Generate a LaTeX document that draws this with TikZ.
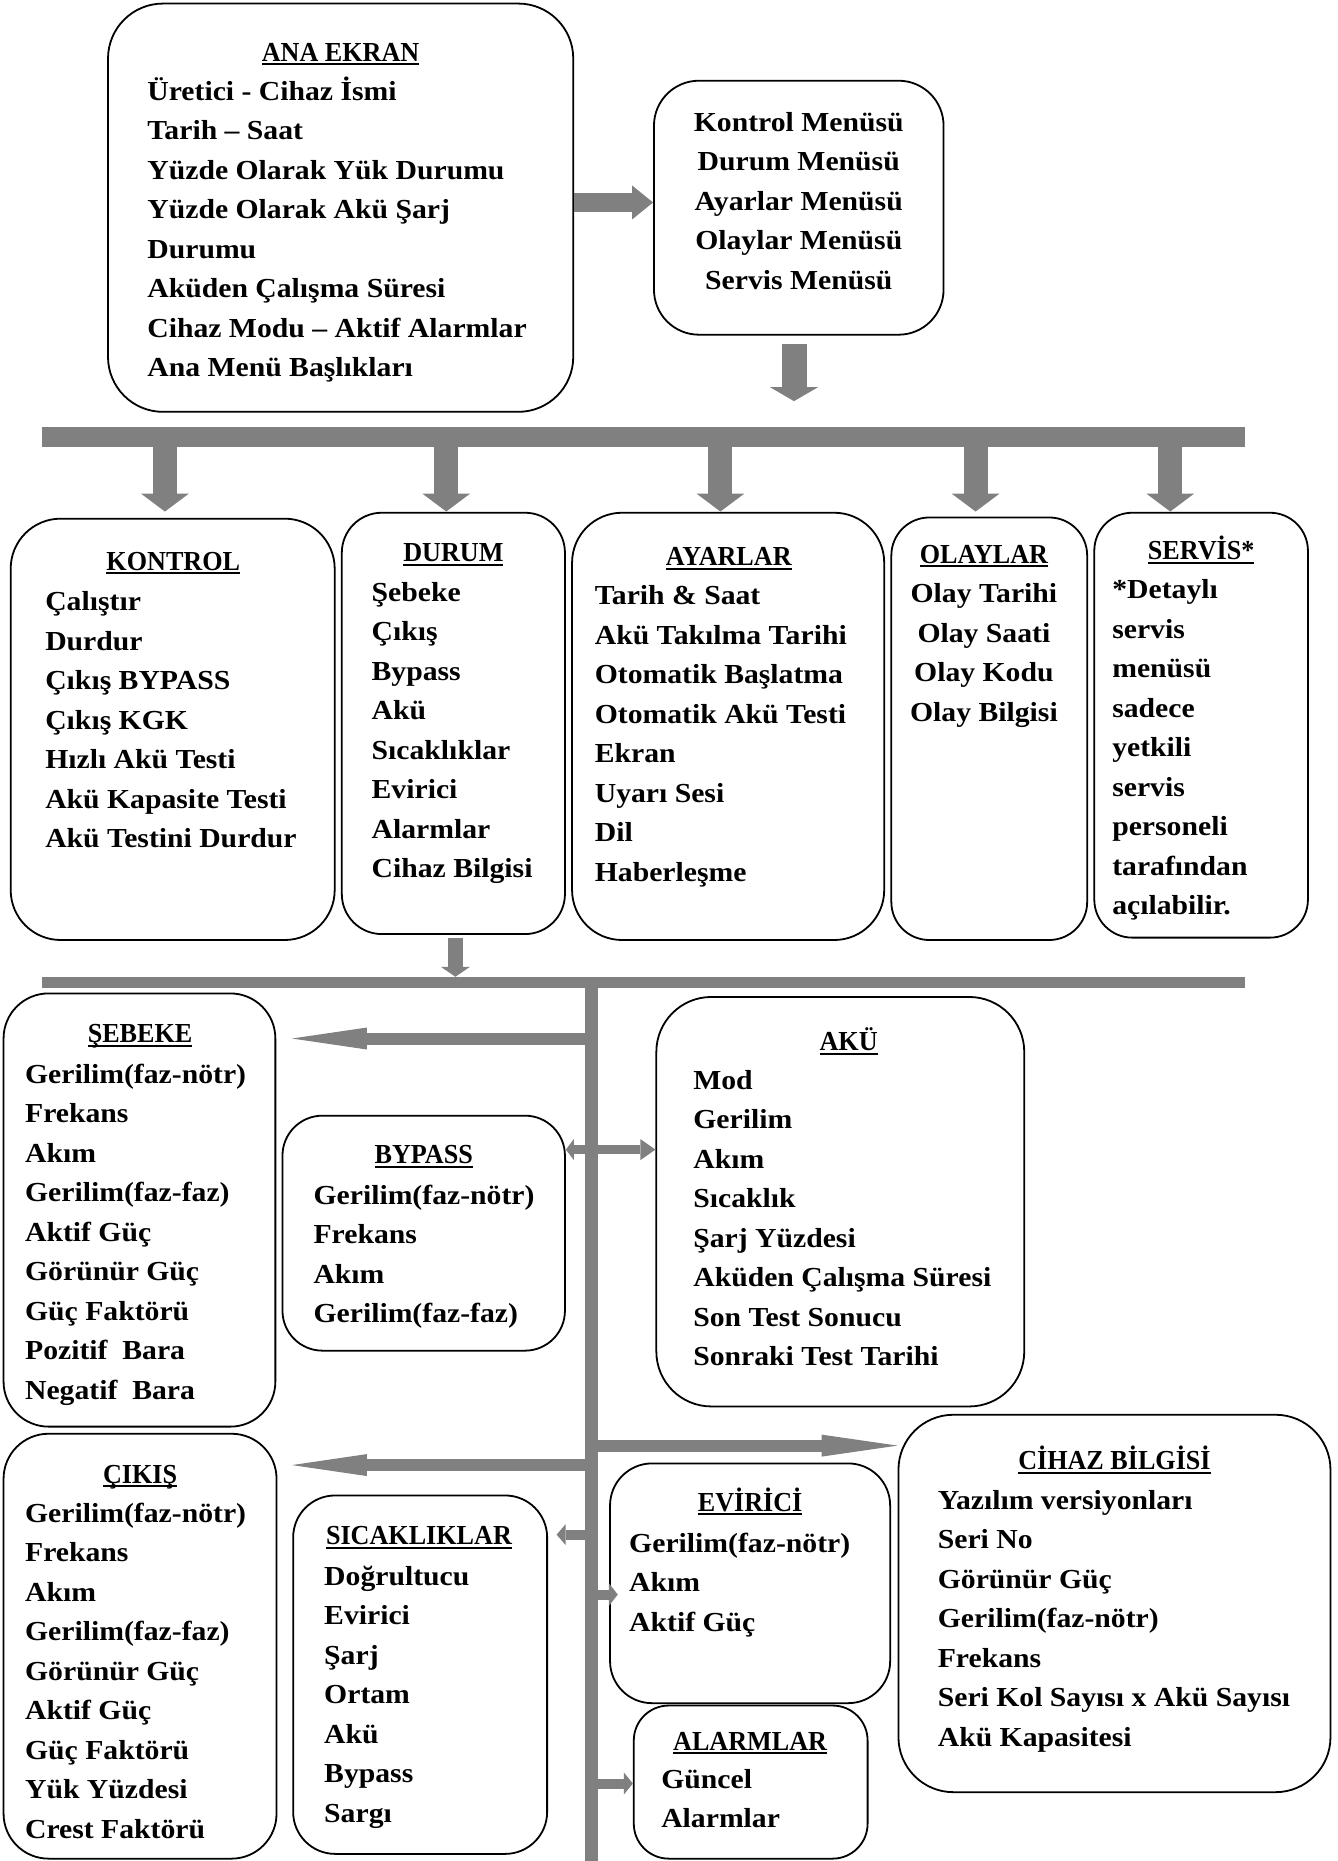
\documentclass[tikz,border=0pt]{standalone}
\usepackage{graphicx}
\usepackage{fontspec}
\setmainfont{Liberation Serif}[FakeStretch=1.08]
\usetikzlibrary{arrows.meta,fit,calc}
\definecolor{agray}{RGB}{128,128,128}
\newcommand\myul[1]{\setbox0\hbox{\scalebox{0.88}[1]{#1}}\rlap{\rule[-4pt]{\wd0}{2pt}}\box0}
\begin{document}
\begin{tikzpicture}[x=1.1872pt,y=-1.1872pt,
  box/.style={draw=black, line width=1.8pt, inner sep=0pt},
  bar/.style={fill=agray, draw=none, inner sep=0pt, outer sep=0pt},
  ttl/.style={font=\fontsize{27.5pt}{39.5pt}\selectfont\bfseries, inner sep=0pt, anchor=base},
  lst/.style={font=\fontsize{27.5pt}{39.5pt}\selectfont\bfseries, inner sep=0pt, align=left, anchor=north west},
  clst/.style={lst, align=center, anchor=north},
  blk/.style n args={3}{draw=agray, line width=#1, -{Triangle[length=#2, width=#3, line width=0pt]}}
]
\useasboundingbox (0,0) rectangle (1127,1568);
\fill[white] (0,0) rectangle (1127,1568);

% boxes
\node[box, rounded corners=55pt, fit={(91,3) (483,347)}] (ana) {};
\node[box, rounded corners=45pt, fit={(551,68) (795,282)}] (kmenu) {};
\node[box, rounded corners=50pt, fit={(9,437) (282,792)}] (kontrol) {};
\node[box, rounded corners=40pt, fit={(288,432) (476,787)}] (durum) {};
\node[box, rounded corners=50pt, fit={(482,432) (745,792)}] (ayarlar) {};
\node[box, rounded corners=38pt, fit={(751,436) (916,792)}] (olaylar) {};
\node[box, rounded corners=38pt, fit={(922,432) (1102,790)}] (servis) {};
\node[box, rounded corners=45pt, fit={(3,837) (232,1202)}] (sebeke) {};
\node[box, rounded corners=40pt, fit={(238,940) (476,1138)}] (bypass) {};
\node[box, rounded corners=55pt, fit={(553,840) (863,1185)}] (aku) {};
\node[box, rounded corners=55pt, fit={(757,1192) (1121,1510)}] (cihaz) {};
\node[box, rounded corners=45pt, fit={(3,1208) (233,1566)}] (cikis) {};
\node[box, rounded corners=42pt, fit={(247,1260) (461,1562)}] (sicak) {};
\node[box, rounded corners=42pt, fit={(514,1233) (750,1435)}] (evirici) {};
\node[box, rounded corners=35pt, fit={(534,1437) (731,1566)}] (alarm) {};

% titles
\node[ttl] (anaT) at (287,51.5) {\myul{ANA EKRAN}};
\node[ttl] (kontrolT) at (146,480.5) {\myul{KONTROL}};
\node[ttl] (durumT) at (382,473.5) {\myul{DURUM}};
\node[ttl] (ayarlarT) at (614,476.5) {\myul{AYARLAR}};
\node[ttl] (olaylarT) at (829,474.5) {\myul{OLAYLAR}};
\node[ttl] (servisT) at (1012,471.5) {\myul{SERVİS*}};
\node[ttl] (sebekeT) at (118,878.5) {\myul{ŞEBEKE}};
\node[ttl] (bypassT) at (357,980.5) {\myul{BYPASS}};
\node[ttl] (akuT) at (715,885.5) {\myul{AKÜ}};
\node[ttl] (cihazT) at (939,1238.5) {\myul{CİHAZ BİLGİSİ}};
\node[ttl] (cikisT) at (118,1249.5) {\myul{ÇIKIŞ}};
\node[ttl] (sicakT) at (353,1301.5) {\myul{SICAKLIKLAR}};
\node[ttl] (eviriciT) at (632,1273.5) {\myul{EVİRİCİ}};
\node[ttl] (alarmT) at (632,1474.5) {\myul{ALARMLAR}};

% lists
\node[lst] (anaL) at ([yshift=27.65pt]124,84.5) {\strut Üretici - Cihaz İsmi\\Tarih – Saat\\Yüzde Olarak Yük Durumu\\Yüzde Olarak Akü Şarj\\Durumu\\Aküden Çalışma Süresi\\Cihaz Modu – Aktif Alarmlar\\Ana Menü Başlıkları};
\node[clst] (kmenuL) at ([yshift=27.65pt]673,110.5) {\strut Kontrol Menüsü\\Durum Menüsü\\Ayarlar Menüsü\\Olaylar Menüsü\\Servis Menüsü};
\node[lst] (kontrolL) at ([yshift=27.65pt]38,514.5) {\strut Çalıştır\\Durdur\\Çıkış BYPASS\\Çıkış KGK\\Hızlı Akü Testi\\Akü Kapasite Testi\\Akü Testini Durdur};
\node[lst] (durumL) at ([yshift=27.65pt]313,506.5) {\strut Şebeke\\Çıkış\\Bypass\\Akü\\Sıcaklıklar\\Evirici\\Alarmlar\\Cihaz Bilgisi};
\node[lst] (ayarlarL) at ([yshift=27.65pt]501,509.5) {\strut Tarih \& Saat\\Akü Takılma Tarihi\\Otomatik Başlatma\\Otomatik Akü Testi\\Ekran\\Uyarı Sesi\\Dil\\Haberleşme};
\node[clst] (olaylarL) at ([yshift=27.65pt]829,507.5) {\strut Olay Tarihi\\Olay Saati\\Olay Kodu\\Olay Bilgisi};
\node[lst] (servisL) at ([yshift=27.65pt]937,504.5) {\strut *Detaylı\\servis\\menüsü\\sadece\\yetkili\\servis\\personeli\\tarafından\\açılabilir.};
\node[lst] (sebekeL) at ([yshift=27.65pt]21,912.5) {\strut Gerilim(faz-nötr)\\Frekans\\Akım\\Gerilim(faz-faz)\\Aktif Güç\\Görünür Güç\\Güç Faktörü\\Pozitif~ Bara\\Negatif~ Bara};
\node[lst] (bypassL) at ([yshift=27.65pt]264,1014.5) {\strut Gerilim(faz-nötr)\\Frekans\\Akım\\Gerilim(faz-faz)};
\node[lst] (akuL) at ([yshift=27.65pt]584,917.5) {\strut Mod\\Gerilim\\Akım\\Sıcaklık\\Şarj Yüzdesi\\Aküden Çalışma Süresi\\Son Test Sonucu\\Sonraki Test Tarihi};
\node[lst] (cihazL) at ([yshift=27.65pt]790,1271.5) {\strut Yazılım versiyonları\\Seri No\\Görünür Güç\\Gerilim(faz-nötr)\\Frekans\\Seri Kol Sayısı x Akü Sayısı\\Akü Kapasitesi};
\node[lst] (cikisL) at ([yshift=27.65pt]21,1282.5) {\strut Gerilim(faz-nötr)\\Frekans\\Akım\\Gerilim(faz-faz)\\Görünür Güç\\Aktif Güç\\Güç Faktörü\\Yük Yüzdesi\\Crest Faktörü};
\node[lst] (sicakL) at ([yshift=27.65pt]273,1335.5) {\strut Doğrultucu\\Evirici\\Şarj\\Ortam\\Akü\\Bypass\\Sargı};
\node[lst] (eviriciL) at ([yshift=27.65pt]530,1307.5) {\strut Gerilim(faz-nötr)\\Akım\\Aktif Güç};
\node[lst] (alarmL) at ([yshift=27.65pt]557,1506.5) {\strut Güncel\\Alarmlar};

% bars
\node[bar, fit={(35,360) (1049,376.5)}] (bus1) {};
\node[bar, fit={(35,823) (1049,832.5)}] (bus2) {};
\node[bar, fit={(492.8,832) (503.7,1568)}] (trunk) {};

% arrows
\coordinate (anaY) at (0,170.6);
\draw[blk={19pt}{21pt}{34pt}] (ana.east |- anaY) -- (kmenu.west |- anaY);
\coordinate (kA) at (669,290);
\coordinate (kB) at (669,338);
\draw[blk={25pt}{14pt}{48pt}] (kA) -- (kB);
\coordinate (d1) at (139,431);
\coordinate (d2) at (376,431);
\coordinate (d3) at (607,431);
\coordinate (d4) at (822,431);
\coordinate (d5) at (986,431);
\foreach \d in {d1,d2,d3,d4,d5}
  \draw[blk={24pt}{18pt}{48pt}] (bus1.south -| \d) -- (\d);
\coordinate (dA) at (383.7,790);
\draw[blk={15pt}{10pt}{29pt}] (dA) -- (dA |- bus2.north);
\coordinate (sebT) at (246,875);
\draw[blk={12pt}{75pt}{22pt}] (trunk.west |- sebT) -- (sebT);
\coordinate (cikT) at (246,1234.4);
\draw[blk={12pt}{75pt}{22pt}] (trunk.west |- cikT) -- (cikT);
\coordinate (dblY) at (0,968.6);
\draw[draw=agray, line width=9pt, {Triangle[length=8pt,width=21pt,line width=0pt]}-{Triangle[length=15pt,width=21pt,line width=0pt]}] (bypass.east |- dblY) -- (aku.west |- dblY);
\coordinate (cihY) at (0,1218);
\draw[blk={12pt}{76pt}{22pt}] (trunk.east |- cihY) -- (cihaz.west |- cihY);
\coordinate (sicT) at (469,1293);
\draw[blk={10pt}{9pt}{21pt}] (trunk.west |- sicT) -- (sicT);
\coordinate (evT) at (520.5,1343.5);
\draw[blk={10pt}{9pt}{23pt}] (trunk.east |- evT) -- (evT);
\coordinate (alY) at (0,1502.7);
\draw[blk={10pt}{9pt}{22pt}] (trunk.east |- alY) -- (alarm.west |- alY);
\end{tikzpicture}
\end{document}
